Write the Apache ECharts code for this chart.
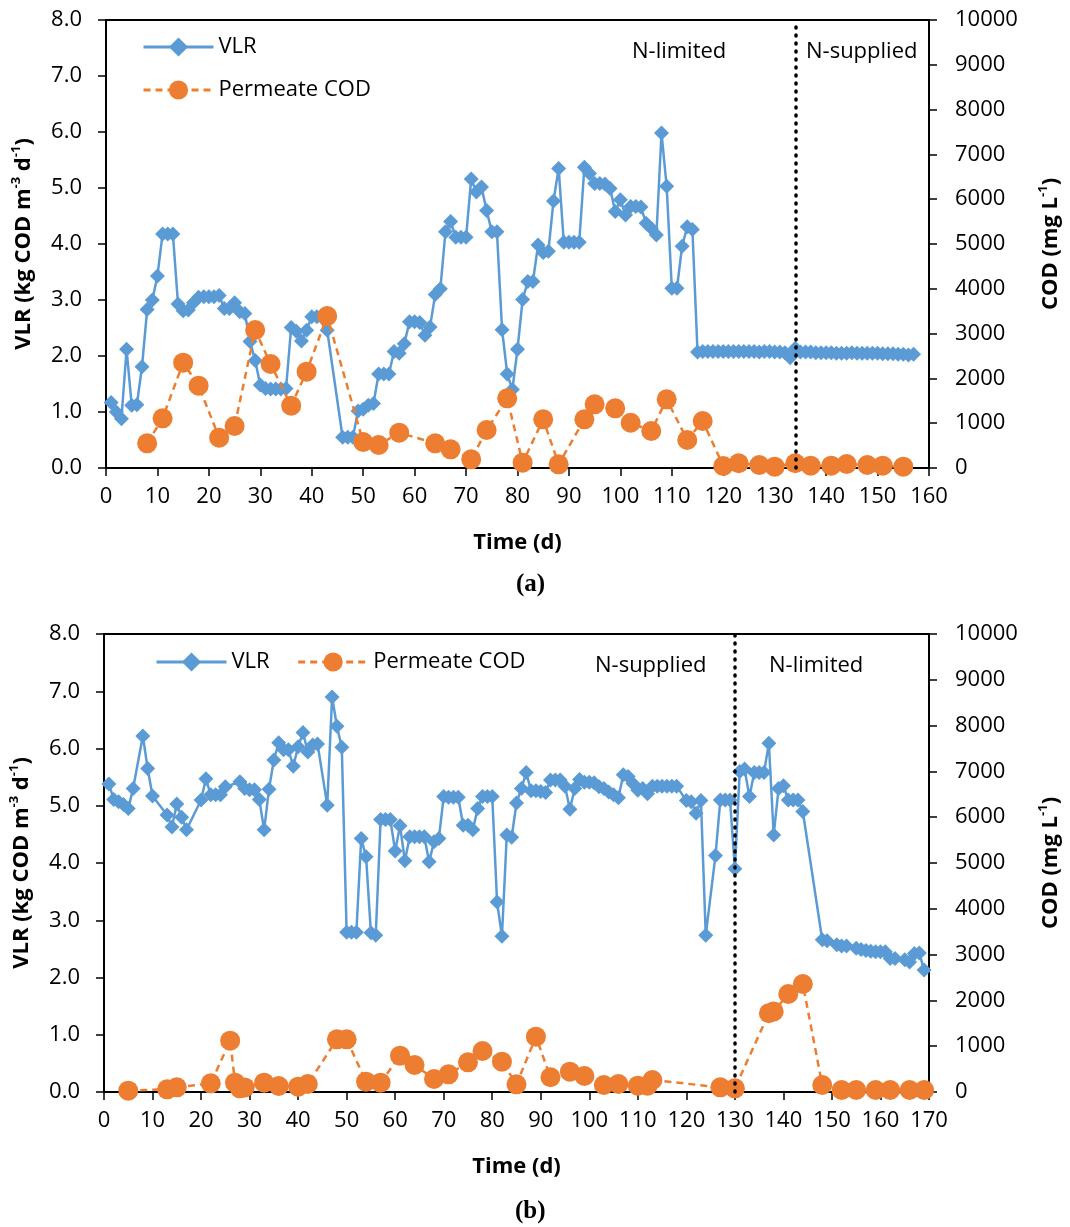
<!DOCTYPE html>
<html>
<head>
<meta charset="utf-8">
<script src="https://cdn.jsdelivr.net/npm/echarts@6/dist/echarts.min.js"></script>
<style>
  html, body { margin: 0; padding: 0; background: #fff; }
  #main { width: 1070px; height: 1227px; }
</style>
</head>
<body>
<div id="main"></div>
<script>
// 面板 (a) VLR
var vlrADays = [1,2,3,4,5,6,7,8,9,10,11,12,13,14,15,16,17,18,19,20,21,22,23,24,25,26,27,28,29,30,
  31,32,33,34,35,36,37,38,39,40,41,43,46,47,48,49,50,51,52,53,54,55,56,57,58,59,60,61,62,63,
  64,65,66,67,68,69,70,71,72,73,74,75,76,77,78,79,80,81,82,83,84,85,86,87,88,89,90,91,92,93,
  94,95,96,97,98,99,100,101,102,103,104,105,106,107,108,109,110,111,112,113,114,115,
  116,117,118,119,120,121,122,123,124,125,126,127,128,129,130,131,132,133,134,
  135,136,137,138,139,140,141,142,143,144,145,146,147,148,149,150,151,152,153,154,155,156,157];
var vlrA = [1.17,1.0,0.88,2.12,1.12,1.13,1.81,2.83,3.0,3.43,4.18,4.18,4.18,2.93,2.81,2.82,2.95,3.05,3.06,3.06,
  3.06,3.08,2.85,2.85,2.95,2.79,2.76,2.26,1.92,1.48,1.42,1.41,1.41,1.41,1.42,2.51,2.44,2.27,2.46,2.7,
  2.7,2.46,0.55,0.55,0.55,1.02,1.05,1.12,1.15,1.68,1.68,1.68,2.08,2.05,2.22,2.61,2.61,2.6,2.37,2.52,
  3.1,3.2,4.22,4.4,4.12,4.12,4.12,5.16,4.93,5.02,4.6,4.22,4.22,2.47,1.68,1.4,2.12,3.01,3.33,3.33,
  3.98,3.85,3.87,4.77,5.35,4.03,4.03,4.03,4.03,5.37,5.26,5.08,5.08,5.07,4.99,4.58,4.79,4.52,4.67,4.67,
  4.66,4.37,4.28,4.16,5.98,5.03,3.21,3.21,3.96,4.31,4.26,2.07,
  2.08,2.08,2.08,2.08,2.08,2.08,2.08,2.08,2.08,2.08,2.08,2.07,2.08,2.08,2.07,2.07,2.06,1.97,2.14,
  2.07,2.07,2.07,2.06,2.06,2.06,2.06,2.05,2.05,2.05,2.06,2.05,2.05,2.05,2.05,2.05,2.04,2.04,2.04,2.03,2.03,2.02,2.03];

// 面板 (a) 出水 COD
var codADays = [8,11,15,18,22,25,29,32,36,39,43,50,53,57,64,67,71,74,78,81,85,88,93,95,99,102,106,109,113,116,
  120,123,127,130,134,137,141,144,148,151,155];
var codA = [551,1109,2351,1838,677,937,3080,2321,1391,2150,3393,580,513,789,551,417,193,848,1555,119,1086,82,1086,1421,1332,1011,826,1533,625,1049,
  45,105,67,30,105,52,52,90,67,52,30];

// 面板 (b) VLR
var vlrBDays = [1,2,3,4,5,6,8,9,10,13,14,15,16,17,20,21,22,23,24,25,28,29,30,31,32,33,34,35,36,37,
  38,39,40,41,42,43,44,46,47,48,49,50,51,52,53,54,55,56,57,58,59,60,61,62,63,64,65,66,67,68,
  69,70,71,72,73,74,75,76,77,78,79,80,81,82,83,84,85,86,87,88,89,90,91,92,93,94,95,96,97,98,
  99,100,101,102,103,104,105,106,107,108,109,110,111,112,113,114,115,116,117,118,120,121,122,123,124,126,127,128,129,130,
  131,132,133,134,135,136,137,138,139,140,141,142,143,144,148,149,151,152,153,155,156,157,158,159,160,161,162,163,165,166,167,168,169];
var vlrB = [5.38,5.11,5.07,5.02,4.95,5.3,6.22,5.65,5.17,4.84,4.63,5.03,4.8,4.58,5.1,5.47,5.19,5.19,5.19,5.33,5.42,5.3,5.28,5.28,5.11,4.58,5.29,5.8,6.1,5.98,
  5.98,5.69,6.03,6.28,5.94,6.06,6.08,5.01,6.9,6.39,6.02,2.79,2.79,2.79,4.43,4.11,2.78,2.74,4.76,4.76,4.76,4.21,4.65,4.04,4.46,4.46,4.46,4.46,4.02,4.37,
  4.43,5.16,5.15,5.15,5.15,4.66,4.66,4.58,4.95,5.16,5.16,5.16,3.32,2.72,4.49,4.45,5.05,5.3,5.58,5.26,5.26,5.25,5.23,5.45,5.45,5.45,5.34,4.94,5.3,5.46,
  5.41,5.41,5.4,5.33,5.3,5.24,5.19,5.14,5.54,5.51,5.39,5.27,5.3,5.21,5.34,5.34,5.34,5.34,5.34,5.34,5.09,5.07,4.87,5.09,2.74,4.13,5.1,5.1,5.1,3.9,
  5.6,5.64,5.16,5.58,5.58,5.58,6.09,4.49,5.3,5.35,5.1,5.1,5.1,4.9,2.66,2.64,2.57,2.55,2.55,2.51,2.49,2.47,2.46,2.45,2.45,2.45,2.33,2.33,2.31,2.27,2.42,2.43,2.13];

// 面板 (b) 出水 COD
var codBDays = [5,13,15,22,26,27,28,29,33,36,40,42,48,50,54,57,61,64,68,71,75,78,82,85,89,92,96,99,103,106,
  110,112,113,127,130,137,138,141,144,148,152,155,159,162,166,169];
var codB = [29,58,102,189,1121,204,80,100,204,131,116,175,1150,1150,225,204,793,590,284,386,648,895,662,168,1208,321,444,350,153,175,
  138,138,262,102,80,1720,1760,2140,2358,153,44,44,44,44,44,44];

var vlrTicks = [0, 8, 1];     // min, max, interval
var codTicks = [0, 10000, 1000];
var phaseLineA = 134;
var phaseLineB = 130;

function pairs(xs, ys) {
  return xs.map(function (x, i) { return [x, ys[i]]; });
}

var FONT = 'Open Sans';
var BLUE = '#5B9BD5';
var ORANGE = '#ED7D31';
var labelStyle = { fontFamily: FONT, fontSize: 22, color: '#000' };
var boldName = { fontFamily: FONT, fontSize: 22, fontWeight: 'bold', color: '#000' };
var richName = {
  n: { fontFamily: FONT, fontSize: 22, fontWeight: 'bold', color: '#000', lineHeight: 28 },
  s: { fontFamily: FONT, fontSize: 13, fontWeight: 'bold', color: '#000', verticalAlign: 'top', lineHeight: 18 }
};
var axisLine = { show: true, lineStyle: { color: '#000', width: 2 } };
var axisTick = { show: true, inside: false, length: 8, lineStyle: { color: '#000', width: 1.5 } };

function xAxisFor(gridIndex, max, gap) {
  return {
    type: 'value', gridIndex: gridIndex, min: 0, max: max, interval: 10,
    axisLine: axisLine, axisTick: axisTick, splitLine: { show: false },
    axisLabel: Object.assign({ margin: 18 }, labelStyle),
    name: 'Time (d)', nameLocation: 'middle', nameGap: gap, nameTextStyle: boldName
  };
}
function leftAxisFor(gridIndex) {
  return {
    type: 'value', gridIndex: gridIndex, position: 'left',
    min: vlrTicks[0], max: vlrTicks[1], interval: vlrTicks[2],
    axisLine: axisLine, axisTick: axisTick, splitLine: { show: false },
    axisLabel: Object.assign({ margin: 24, formatter: function (v) { return v.toFixed(1); } }, labelStyle),
    name: '{n|VLR (kg COD m}{s|-3}{n| d}{s|-1}{n|)}', nameLocation: 'middle', nameRotate: 90, nameGap: 68,
    nameTextStyle: { rich: richName }
  };
}
function rightAxisFor(gridIndex) {
  return {
    type: 'value', gridIndex: gridIndex, position: 'right',
    min: codTicks[0], max: codTicks[1], interval: codTicks[2],
    axisLine: axisLine, axisTick: axisTick, splitLine: { show: false },
    axisLabel: Object.assign({ margin: 26, formatter: function (v) { return String(v); } }, labelStyle),
    name: '{n|COD (mg L}{s|-1}{n|)}', nameLocation: 'middle', nameRotate: 90, nameGap: 108,
    nameTextStyle: { rich: richName }
  };
}

function vlrSeries(name, xi, yi, data, phase) {
  var s = {
    name: name, type: 'line', xAxisIndex: xi, yAxisIndex: yi,
    data: data, symbol: 'diamond', symbolSize: 15,
    lineStyle: { color: BLUE, width: 2.5 }, itemStyle: { color: BLUE },
    animation: false, z: 2
  };
  if (phase != null) {
    s.markLine = {
      silent: true, symbol: 'none', label: { show: false },
      lineStyle: { color: '#000', width: 3.5, type: [1, 7], cap: 'round' },
      data: [{ xAxis: phase }]
    };
  }
  return s;
}
function codSeries(name, xi, yi, data) {
  return {
    name: name, type: 'line', xAxisIndex: xi, yAxisIndex: yi,
    data: data, symbol: 'circle', symbolSize: 20,
    lineStyle: { color: ORANGE, width: 2.5, type: [7, 5] }, itemStyle: { color: ORANGE },
    animation: false, z: 3
  };
}

var legendCommon = {
  padding: 0, itemWidth: 70, itemHeight: 24, textStyle: labelStyle,
  lineStyle: { width: 3 }
};

var chart = echarts.init(document.getElementById('main'));
var option = {
  backgroundColor: '#fff',
  animation: false,
  grid: [
    { left: 106, top: 20, width: 827, height: 448, show: true, borderColor: '#000', borderWidth: 2, backgroundColor: '#fff' },
    { left: 103, top: 634, width: 835, height: 458, show: true, borderColor: '#000', borderWidth: 2, backgroundColor: '#fff' }
  ],
  legend: [
    Object.assign({
      data: ['VLR', 'Permeate COD'], orient: 'vertical', left: 142, top: 36, itemGap: 21
    }, legendCommon),
    Object.assign({
      data: ['VLR ', 'Permeate COD '], orient: 'horizontal', left: 155, top: 651, itemGap: 27,
      formatter: function (n) { return n.trim(); }
    }, legendCommon)
  ],
  xAxis: [xAxisFor(0, 160, 64), xAxisFor(1, 170, 64)],
  yAxis: [leftAxisFor(0), rightAxisFor(0), leftAxisFor(1), rightAxisFor(1)],
  series: [
    vlrSeries('VLR', 0, 0, pairs(vlrADays, vlrA), phaseLineA),
    codSeries('Permeate COD', 0, 1, pairs(codADays, codA)),
    vlrSeries('VLR ', 1, 2, pairs(vlrBDays, vlrB), phaseLineB),
    codSeries('Permeate COD ', 1, 3, pairs(codBDays, codB))
  ],
  graphic: [
    { type: 'text', left: 632, top: 41, style: { text: 'N-limited', font: '22px "Open Sans"', fill: '#000' } },
    { type: 'text', left: 806, top: 41, style: { text: 'N-supplied', font: '22px "Open Sans"', fill: '#000' } },
    { type: 'text', left: 595, top: 655, style: { text: 'N-supplied', font: '22px "Open Sans"', fill: '#000' } },
    { type: 'text', left: 769, top: 655, style: { text: 'N-limited', font: '22px "Open Sans"', fill: '#000' } },
    { type: 'text', left: 516, top: 572, style: { text: '(a)', font: 'bold 25px "Liberation Serif"', fill: '#000' } },
    { type: 'text', left: 515, top: 1199, style: { text: '(b)', font: 'bold 25px "Liberation Serif"', fill: '#000' } }
  ]
};
chart.setOption(option);
</script>
</body>
</html>
